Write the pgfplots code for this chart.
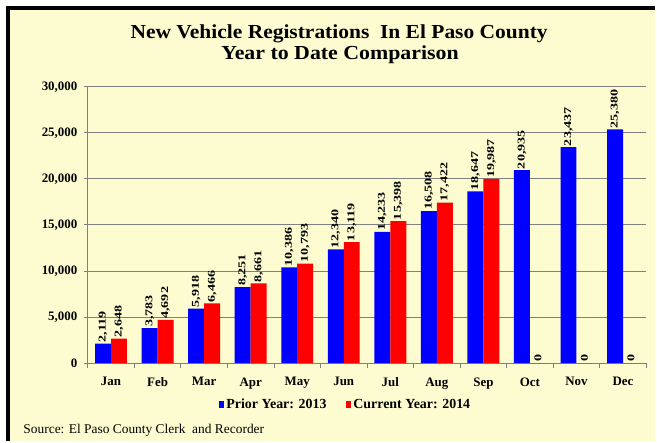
\documentclass[border=0pt]{standalone}
\usepackage{graphicx}
\usepackage{pgfplots}
\pgfplotsset{compat=1.18}
\usepackage{fontspec}
\setmainfont{Liberation Serif}
\definecolor{bg}{RGB}{252,252,208}
\definecolor{gridc}{RGB}{128,128,128}
\begin{document}
\begin{tikzpicture}[x=1bp,y=1bp]
\fill[white] (0,0) rectangle (657,442);
\fill[bg] (8,0) rectangle (657,434);
\draw[black,line width=3.5bp] (8,0) -- (8,434) -- (657,434);
\node[anchor=base,font=\bfseries\fontsize{20}{22}\selectfont] at (340,403) {\scalebox{1.08}[1]{New Vehicle Registrations\ \ In El Paso County}};
\node[anchor=base,font=\bfseries\fontsize{20}{22}\selectfont] at (341,382) {\scalebox{1.1}[1]{Year to Date Comparison}};
\node[anchor=base west,font=\fontsize{13.5}{15}\selectfont] at (20,7) {Source: El Paso County Clerk\ \ and Recorder};
\begin{axis}[
  at={(88bp,78bp)}, anchor=south west,
  scale only axis, width=560bp, height=277bp,
  xmin=-0.5, xmax=11.5, ymin=0, ymax=30000,
  ybar=0pt, bar width=16bp,
  axis x line*=bottom, axis y line*=left,
  axis line style={-, gridc, line width=0.8bp},
  xtick={0,...,11},
  xticklabels={Jan,Feb,Mar,Apr,May,Jun,Jul,Aug,Sep,Oct,Nov,Dec},
  major x tick style={draw=none},
  minor xtick={-0.5,0.5,...,11.5},
  minor x tick style={gridc, line width=0.8bp},
  minor tick length=5bp,
  tick align=outside,
  ytick={0,5000,...,30000},
  major y tick style={gridc, line width=0.8bp},
  major tick length=4bp,
  ymajorgrids, grid style={gridc, line width=0.8bp},
  scaled y ticks=false,
  /pgf/number format/assume math mode=true,
  /pgf/number format/1000 sep={,},
  yticklabel style={font=\bfseries\fontsize{13}{15}\selectfont, xshift=-3bp},
  xticklabel style={font=\bfseries\fontsize{13}{15}\selectfont, yshift=-7bp},
  nodes near coords={\scalebox{1.35}[1]{\pgfmathprintnumber{\pgfplotspointmeta}}},
  every node near coord/.append style={font=\bfseries\fontsize{10.5}{12}\selectfont, rotate=90, anchor=west, black, inner sep=1bp},
  legend style={at={(0.462,-0.151)}, anchor=center, draw=none, fill=none,
    legend columns=2, font=\bfseries\fontsize{14}{16}\selectfont,
    /tikz/every even column/.append style={column sep=18bp},
    /tikz/every odd column/.append style={column sep=0bp},
    inner sep=0pt, cells={anchor=west}},
  legend image code/.code={\fill[#1,draw=none] (0bp,-3.5bp) rectangle (5bp,3.5bp);},
]
\addplot[fill=blue, draw=none] coordinates {(0,2119) (1,3783) (2,5918) (3,8251) (4,10386) (5,12340) (6,14233) (7,16508) (8,18647) (9,20935) (10,23437) (11,25380)};
\addplot[fill=red, draw=none] coordinates {(0,2648) (1,4692) (2,6466) (3,8661) (4,10793) (5,13119) (6,15398) (7,17422) (8,19987) (9,0) (10,0) (11,0)};
\legend{Prior Year: 2013, Current Year: 2014}
\end{axis}
\end{tikzpicture}
\end{document}
